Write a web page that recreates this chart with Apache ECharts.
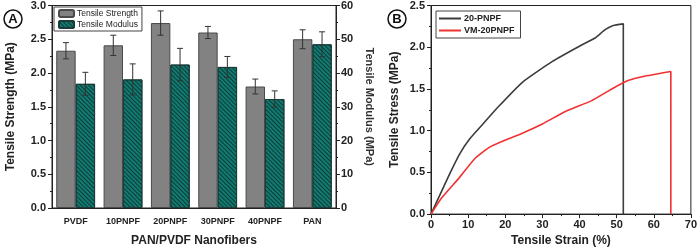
<!DOCTYPE html>
<html>
<head>
<meta charset="utf-8">
<script src="https://cdn.jsdelivr.net/npm/echarts@6/dist/echarts.min.js"></script>
<style>
html, body { margin: 0; padding: 0; background: #fff; }
#chart { width: 700px; height: 252px; }
</style>
</head>
<body>
<div id="chart"></div>
<script>
// panel A data
const fibers = ['PVDF', '10PNPF', '20PNPF', '30PNPF', '40PNPF', 'PAN']
const strength = [2.33, 2.41, 2.74, 2.60, 1.80, 2.50]
const strengthErr = [0.12, 0.15, 0.18, 0.09, 0.11, 0.14]
const modulus = [36.8, 38.1, 42.5, 41.8, 32.3, 48.5]
const modulusErr = [3.4, 4.6, 4.8, 3.1, 2.4, 3.7]

// panel B data
const strain20 = [0, 2.5, 5, 7.7, 10.4, 14, 18, 24.6, 32.7, 40.7, 44.2, 46.9, 49.1, 51.8, 51.8]
const stress20 = [0, 0.24, 0.48, 0.72, 0.90, 1.08, 1.28, 1.58, 1.83, 2.03, 2.11, 2.21, 2.26, 2.28, 0]
const strainVM = [0, 2.8, 7.7, 11.7, 15.7, 20.2, 24.6, 30, 36.2, 43.3, 48.7, 53.1, 58.4, 64.6, 64.6]
const stressVM = [0, 0.19, 0.44, 0.66, 0.80, 0.89, 0.97, 1.08, 1.23, 1.36, 1.50, 1.60, 1.66, 1.71, 0]

const FONT = 'Liberation Sans'
const catGap = 0.18

const errBars = (vals, errs, side, yIdx) => ({
    type: 'custom',
    xAxisIndex: 0,
    yAxisIndex: yIdx,
    silent: true,
    z: 5,
    data: vals.map((v, i) => [i, v, errs[i]]),
    renderItem: (params, api) => {
        const i = api.value(0)
        const v = api.value(1)
        const e = api.value(2)
        const bw = api.size([1, 0])[0] * (1 - catGap) / 2
        const c = api.coord([i, v])
        const x = c[0] + side * bw / 2
        const top = api.coord([i, v + e])[1]
        const bot = api.coord([i, v - e])[1]
        const st = { stroke: '#333', lineWidth: 1 }
        return {
            type: 'group',
            children: [
                { type: 'line', shape: { x1: x, y1: top, x2: x, y2: bot }, style: st },
                { type: 'line', shape: { x1: x - 3, y1: top, x2: x + 3, y2: top }, style: st },
                { type: 'line', shape: { x1: x - 3, y1: bot, x2: x + 3, y2: bot }, style: st }
            ]
        }
    }
})

const valAxis = (extra) => Object.assign({
    type: 'value',
    axisLine: { show: true, lineStyle: { color: '#222', width: 1 } },
    axisTick: { show: true, length: 4, lineStyle: { color: '#222' } },
    minorTick: { show: true, splitNumber: 2, length: 2, lineStyle: { color: '#222' } },
    splitLine: { show: false },
    axisLabel: { color: '#222', fontFamily: FONT, fontWeight: 'bold', fontSize: 11, margin: 5 },
    nameLocation: 'middle',
    nameTextStyle: { color: '#222', fontFamily: FONT, fontWeight: 'bold', fontSize: 12 }
}, extra)

const myChart = echarts.init(document.getElementById('chart'))
const option = {
    animation: false,
    grid: [
        { left: 52, top: 5, width: 284, height: 212, show: true, borderColor: '#222', borderWidth: 1, backgroundColor: 'transparent' },
        { left: 431, top: 5, width: 262, height: 212, show: true, borderColor: '#222', borderWidth: 1, backgroundColor: 'transparent' }
    ],
    legend: [
        {
            data: ['Tensile Strength', 'Tensile Modulus'],
            orient: 'vertical',
            left: 54,
            top: 7,
            padding: [2, 4, 2, 4],
            itemGap: 2,
            itemWidth: 15,
            itemHeight: 7,
            borderColor: '#444',
            borderWidth: 1,
            textStyle: { fontFamily: FONT, fontSize: 8.5, color: '#222', padding: [0, 0, 0, -2] }
        },
        {
            data: ['20-PNPF', 'VM-20PNPF'],
            orient: 'vertical',
            left: 436,
            top: 11,
            padding: [3, 6, 3, 3],
            itemGap: 3,
            itemWidth: 22,
            itemHeight: 2,
            borderColor: '#444',
            borderWidth: 1,
            icon: 'rect',
            textStyle: { fontFamily: FONT, fontSize: 9, fontWeight: 'bold', color: '#222', padding: [0, 0, 0, -2] }
        }
    ],
    xAxis: [
        {
            type: 'category',
            gridIndex: 0,
            data: fibers,
            axisLine: { lineStyle: { color: '#222' } },
            axisTick: { show: false },
            axisLabel: { color: '#222', fontFamily: FONT, fontWeight: 'bold', fontSize: 9, margin: 9 },
            name: 'PAN/PVDF Nanofibers',
            nameLocation: 'middle',
            nameGap: 27,
            nameTextStyle: { color: '#222', fontFamily: FONT, fontWeight: 'bold', fontSize: 12 }
        },
        valAxis({
            gridIndex: 1,
            min: 0,
            max: 70,
            interval: 10,
            name: 'Tensile Strain (%)',
            nameGap: 17,
            axisLabel: { color: '#222', fontFamily: FONT, fontWeight: 'bold', fontSize: 11, margin: 5 }
        })
    ],
    yAxis: [
        valAxis({
            gridIndex: 0,
            min: 0,
            max: 3,
            interval: 0.5,
            name: 'Tensile Strength (MPa)',
            nameGap: 35,
            axisLabel: { color: '#222', fontFamily: FONT, fontWeight: 'bold', fontSize: 11, margin: 6, formatter: v => v.toFixed(1) }
        }),
        valAxis({
            gridIndex: 0,
            position: 'right',
            min: 0,
            max: 60,
            interval: 10,
            name: 'Tensile Modulus (MPa)',
            nameRotate: -90,
            nameGap: 28,
            nameTextStyle: { color: '#333', fontFamily: FONT, fontWeight: 'bold', fontSize: 11 }
        }),
        valAxis({
            gridIndex: 1,
            min: 0,
            max: 2.5,
            interval: 0.5,
            name: 'Tensile Stress (MPa)',
            nameGap: 30,
            axisLabel: { color: '#222', fontFamily: FONT, fontWeight: 'bold', fontSize: 11, margin: 6, formatter: v => v.toFixed(1) }
        })
    ],
    series: [
        {
            name: 'Tensile Strength',
            type: 'bar',
            xAxisIndex: 0,
            yAxisIndex: 0,
            data: strength,
            barGap: '0%',
            barCategoryGap: (catGap * 100) + '%',
            itemStyle: { color: '#828282', borderColor: '#4a4a4a', borderWidth: 1 }
        },
        {
            name: 'Tensile Modulus',
            type: 'bar',
            xAxisIndex: 0,
            yAxisIndex: 1,
            data: modulus,
            barGap: '0%',
            barCategoryGap: (catGap * 100) + '%',
            itemStyle: {
                color: '#127a70',
                borderColor: '#1d3b38',
                borderWidth: 1,
                decal: {
                    symbol: 'rect',
                    symbolSize: 1,
                    dashArrayX: [1, 0],
                    dashArrayY: [1, 2],
                    rotation: Math.PI / 4,
                    color: 'rgba(10, 40, 38, 0.75)'
                }
            }
        },
        errBars(strength, strengthErr, -1, 0),
        errBars(modulus, modulusErr, 1, 1),
        {
            name: '20-PNPF',
            type: 'line',
            xAxisIndex: 1,
            yAxisIndex: 2,
            data: strain20.map((x, i) => [x, stress20[i]]),
            showSymbol: false,
            smooth: 0.15,
            lineStyle: { color: '#3c3c3c', width: 1.6 },
            itemStyle: { color: '#3c3c3c' }
        },
        {
            name: 'VM-20PNPF',
            type: 'line',
            xAxisIndex: 1,
            yAxisIndex: 2,
            data: strainVM.map((x, i) => [x, stressVM[i]]),
            showSymbol: false,
            smooth: 0.15,
            lineStyle: { color: '#f03232', width: 1.6 },
            itemStyle: { color: '#f03232' }
        }
    ],
    graphic: [
        { type: 'circle', shape: { cx: 13, cy: 19, r: 9 }, style: { fill: '#fff', stroke: '#111', lineWidth: 1.5 } },
        { type: 'text', x: 13, y: 19, style: { text: 'A', fill: '#111', font: 'bold 13px "Liberation Sans"', align: 'center', verticalAlign: 'middle' } },
        { type: 'circle', shape: { cx: 397, cy: 19, r: 9 }, style: { fill: '#fff', stroke: '#111', lineWidth: 1.5 } },
        { type: 'text', x: 397, y: 19, style: { text: 'B', fill: '#111', font: 'bold 13px "Liberation Sans"', align: 'center', verticalAlign: 'middle' } }
    ]
}
myChart.setOption(option)
</script>
</body>
</html>
